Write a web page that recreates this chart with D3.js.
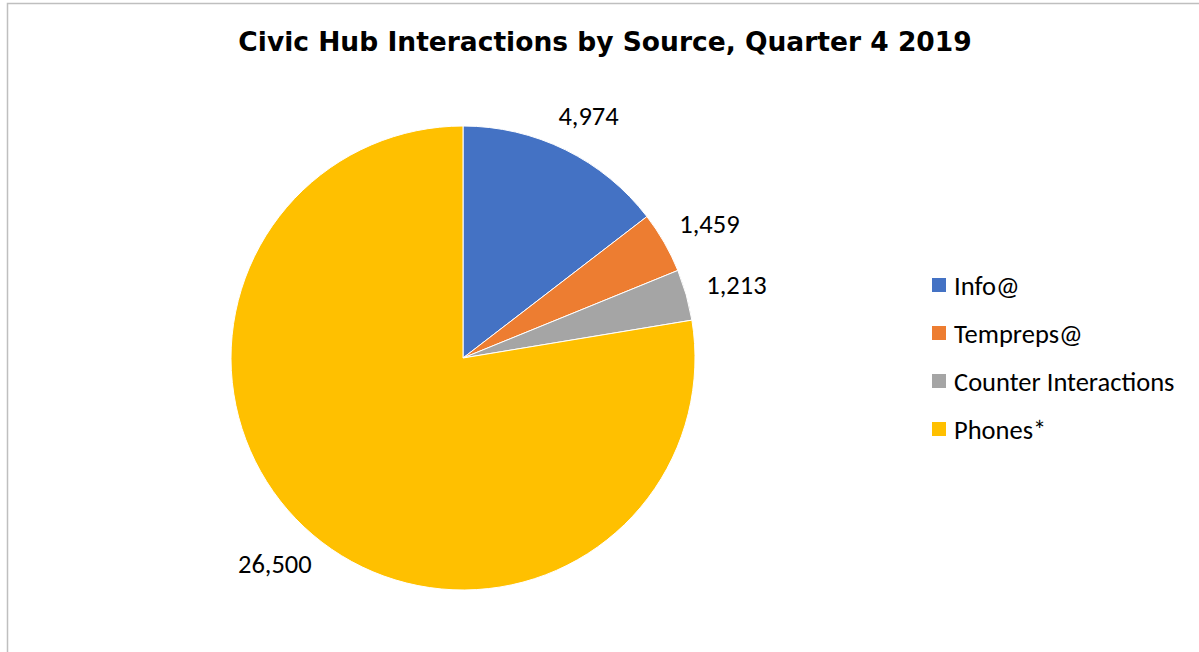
<!DOCTYPE html>
<html>
<head>
<meta charset="utf-8">
<script src="https://cdn.jsdelivr.net/npm/d3@7"></script>
<style>
  body { margin: 0; background: #fff; }
  svg { display: block; }
</style>
</head>
<body>
<script>
// data
var categories = ["Info@", "Tempreps@", "Counter Interactions", "Phones*"];
var values = [4974, 1459, 1213, 26500];
var colors = ["#4472C4", "#ED7D31", "#A5A5A5", "#FFC000"];
var title = "Civic Hub Interactions by Source, Quarter 4 2019";

var width = 1199,
    height = 652;

var svg = d3.select("body").append("svg")
    .attr("width", width)
    .attr("height", height);

// chart area border (only left and top visible)
svg.append("rect")
    .attr("x", 7.5)
    .attr("y", 3.5)
    .attr("width", width + 20)
    .attr("height", height + 20)
    .attr("fill", "#fff")
    .attr("stroke", "#BFBFBF")
    .attr("stroke-width", 1.5);

svg.append("text")
    .attr("x", 605)
    .attr("y", 51)
    .attr("text-anchor", "middle")
    .attr("font-family", "DejaVu Sans, Verdana, sans-serif")
    .attr("font-weight", "bold")
    .attr("font-size", "26.5px")
    .attr("fill", "#000")
    .text(title);

var cx = 463, cy = 358, radius = 232;

var color = d3.scaleOrdinal().domain(categories).range(colors);

var pie = d3.pie().sort(null).value(function(d) { return d.value; });
var data = pie(categories.map(function(c, i) { return {name: c, value: values[i]}; }));

var arc = d3.arc().innerRadius(0).outerRadius(radius);

var g = svg.append("g").attr("transform", "translate(" + cx + "," + cy + ")");

g.selectAll("path")
  .data(data)
  .enter().append("path")
    .attr("d", arc)
    .attr("fill", function(d) { return color(d.data.name); })
    .attr("stroke", "#fff")
    .attr("stroke-width", 1);

// labels placed outside the slice end, pushed away by half their box
var fmt = d3.format(",");
var labelFont = "Carlito, Lato, 'Open Sans', sans-serif";
var labelSize = "26.5px";
var gap = 22;

g.selectAll("text.lbl")
  .data(data)
  .enter().append("text")
    .attr("class", "lbl")
    .attr("font-family", labelFont)
    .attr("font-size", labelSize)
    .attr("fill", "#000")
    .attr("text-anchor", "middle")
    .attr("dominant-baseline", "central")
    .text(function(d) { return fmt(d.data.value); })
    .each(function(d) {
      var a = (d.startAngle + d.endAngle) / 2;
      var box = this.getBBox();
      var r = radius + gap;
      var x = Math.sin(a) * r + Math.sin(a) * box.width / 2;
      var y = -Math.cos(a) * r - Math.cos(a) * box.height / 2;
      d3.select(this).attr("x", x).attr("y", y);
    });

// legend
var legend = svg.append("g").attr("transform", "translate(932,285)");

var item = legend.selectAll("g")
  .data(categories)
  .enter().append("g")
    .attr("transform", function(d, i) { return "translate(0," + (i * 48) + ")"; });

item.append("rect")
    .attr("x", 0)
    .attr("y", -7)
    .attr("width", 14)
    .attr("height", 14)
    .attr("fill", function(d) { return color(d); });

item.append("text")
    .attr("x", 22)
    .attr("y", 1)
    .attr("dominant-baseline", "central")
    .attr("font-family", labelFont)
    .attr("font-size", labelSize)
    .attr("fill", "#000")
    .text(function(d) { return d; });
</script>
</body>
</html>
